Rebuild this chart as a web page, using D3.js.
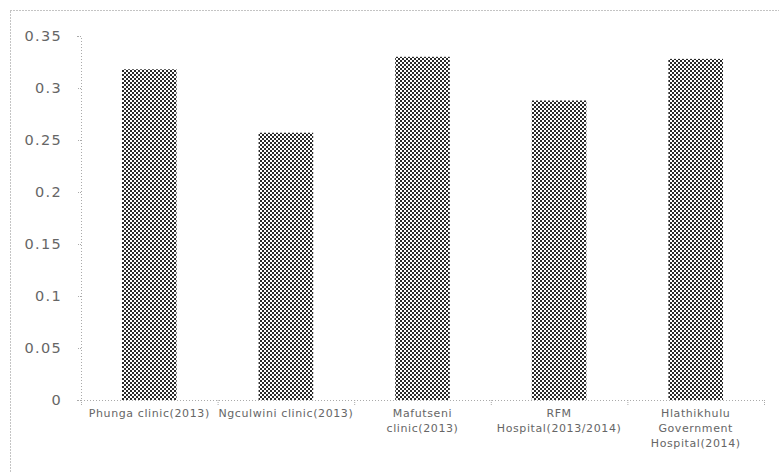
<!DOCTYPE html>
<html>
<head>
<meta charset="utf-8">
<script src="https://cdn.jsdelivr.net/npm/d3@7"></script>
<style>
  html, body { margin: 0; padding: 0; background: #fff; }
  svg { display: block; }
</style>
</head>
<body>
<svg id="chart" width="779" height="472"></svg>
<script>
// Facility names (line-broken as they wrap under each bar)
const categories = [
  ["Phunga clinic(2013)"],
  ["Ngculwini clinic(2013)"],
  ["Mafutseni", "clinic(2013)"],
  ["RFM", "Hospital(2013/2014)"],
  ["Hlathikhulu", "Government", "Hospital(2014)"]
];
const values = [0.318, 0.257, 0.330, 0.288, 0.328];
const yTicks = [0, 0.05, 0.1, 0.15, 0.2, 0.25, 0.3, 0.35];
const yTickLabels = ["0", "0.05", "0.1", "0.15", "0.2", "0.25", "0.3", "0.35"];

const svg = d3.select("#chart");
const margin = { left: 81, top: 36 };

// Dotted outer frame
svg.append("rect")
  .attr("x", 10.5).attr("y", 10.5)
  .attr("width", 800).attr("height", 500)
  .attr("fill", "none")
  .attr("stroke", "#888")
  .attr("stroke-width", 1)
  .attr("stroke-dasharray", "1,2");

// Checker-dot fill for bars
const defs = svg.append("defs");
const pat = defs.append("pattern")
  .attr("id", "dots")
  .attr("patternUnits", "userSpaceOnUse")
  .attr("width", 4).attr("height", 4);
pat.append("rect").attr("width", 4).attr("height", 4).attr("fill", "#fff");
pat.append("rect").attr("x", 0).attr("y", 0).attr("width", 2).attr("height", 2).attr("fill", "#2a2a2a");
pat.append("rect").attr("x", 2).attr("y", 2).attr("width", 2).attr("height", 2).attr("fill", "#2a2a2a");

const x = d3.scaleBand()
  .domain(d3.range(categories.length))
  .range([margin.left, 764])
  .paddingInner(0.6)
  .paddingOuter(0.3);

const y = d3.scaleLinear()
  .domain([0, 0.35])
  .range([400, margin.top]);

// Bars
svg.append("g").selectAll("rect")
  .data(values)
  .join("rect")
  .attr("x", (d, i) => x(i))
  .attr("y", d => y(d))
  .attr("width", x.bandwidth())
  .attr("height", d => y(0) - y(d))
  .attr("fill", "url(#dots)");

// Y axis
const yAxis = d3.axisLeft(y)
  .tickValues(yTicks)
  .tickFormat((d, i) => yTickLabels[i])
  .tickSize(4)
  .tickPadding(15);
const gy = svg.append("g").attr("transform", `translate(${margin.left},0)`).call(yAxis);
gy.select(".domain").attr("stroke", "#aaa").attr("stroke-dasharray", "1,2");
gy.selectAll(".tick line").attr("stroke", "#aaa").attr("stroke-dasharray", "1,1");
gy.selectAll(".tick text")
  .attr("font-family", "'DejaVu Sans', sans-serif")
  .attr("font-size", 14.5)
  .attr("letter-spacing", 1.3)
  .attr("fill", "#666");

// X axis line and category boundary ticks
const step = x.step();
const x0 = margin.left;
svg.append("line")
  .attr("x1", x0).attr("x2", 764)
  .attr("y1", y(0) + 0.5).attr("y2", y(0) + 0.5)
  .attr("stroke", "#aaa").attr("stroke-dasharray", "1,2");
svg.append("g").selectAll("line")
  .data(d3.range(categories.length + 1))
  .join("line")
  .attr("x1", i => x0 + i * step + 0.5)
  .attr("x2", i => x0 + i * step + 0.5)
  .attr("y1", y(0))
  .attr("y2", y(0) + 5)
  .attr("stroke", "#aaa")
  .attr("stroke-dasharray", "1,1");

// Category labels
const lab = svg.append("g").selectAll("text")
  .data(categories)
  .join("text")
  .attr("x", (d, i) => x(i) + x.bandwidth() / 2)
  .attr("y", 417)
  .attr("text-anchor", "middle")
  .attr("font-family", "'DejaVu Sans', sans-serif")
  .attr("font-size", 11)
  .attr("letter-spacing", 0.6)
  .attr("fill", "#666");
lab.selectAll("tspan")
  .data(d => d)
  .join("tspan")
  .attr("x", function () { return d3.select(this.parentNode).attr("x"); })
  .attr("dy", (d, i) => i === 0 ? 0 : 15)
  .text(d => d);
</script>
</body>
</html>
